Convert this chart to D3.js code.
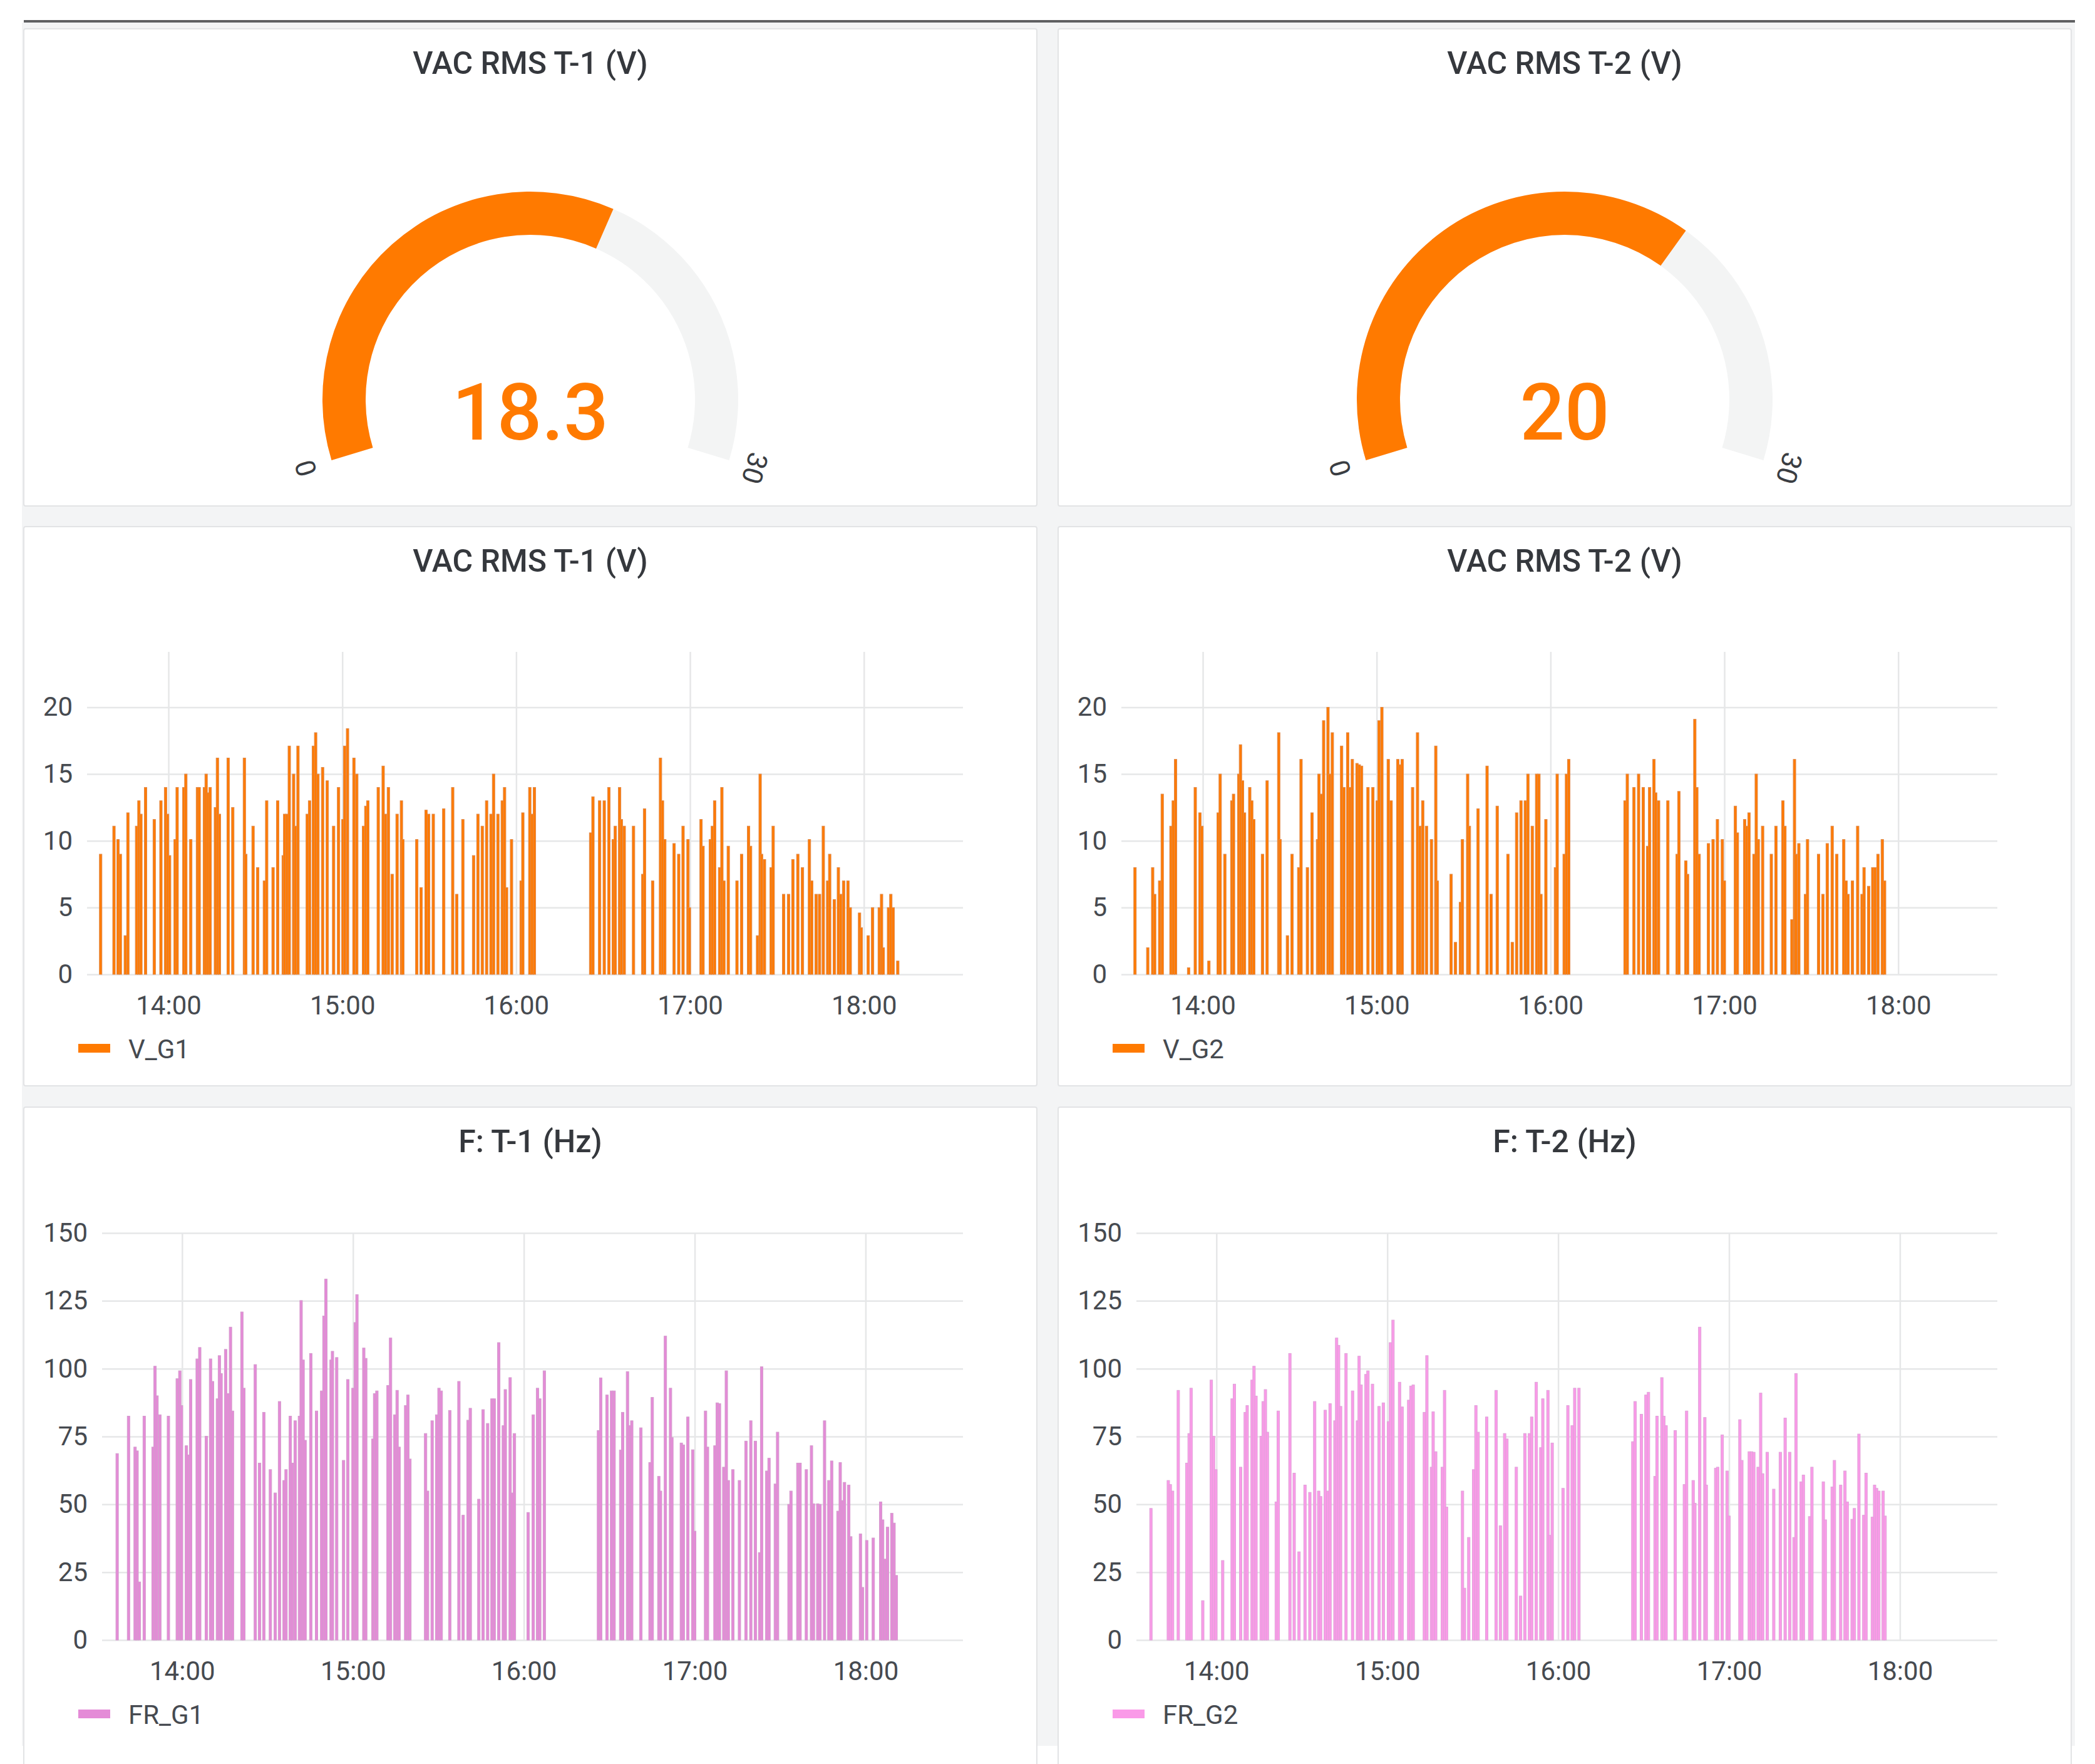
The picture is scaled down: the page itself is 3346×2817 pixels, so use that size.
<!DOCTYPE html>
<html>
<head>
<meta charset="utf-8">
<script src="https://cdn.jsdelivr.net/npm/d3@7"></script>
<style>
body{margin:0;background:#fff;}
text{font-family:Roboto,"Noto Sans",sans-serif;}
</style>
</head>
<body>
<svg id="dash" width="3346" height="2817"></svg>
<script>
// gauges
var gaugeTitles = ["VAC RMS T-1 (V)", "VAC RMS T-2 (V)"];
var gaugeValues = [18.3, 20];
var gaugeRange = [0, 30];

// tick labels
var vTicks = [0, 5, 10, 15, 20];
var fTicks = [0, 25, 50, 75, 100, 125, 150];

// sample times are minutes after 14:00
var vg1Minutes = [-23.4,-18.8,-17.4,-16.6,-14.9,-14,-11,-10.2,-9.5,-7.9,-4.9,-2.6,-1,-0.3,0.4,2.3,3,5.3,6,7.7,
  10,10.6,12.4,13,13.7,14.4,16.2,16.9,17.6,20.6,22.2,26.2,26.7,29.2,30.8,33.1,33.9,36.1,37.7,39.6,
  40.1,40.9,41.7,43.2,43.8,44.7,47.9,48.7,50,50.8,51.6,53.2,54.8,57,58.7,60.2,60.8,61.8,64,65,
  67.3,68.1,68.8,72.4,74.1,74.9,75.9,77.2,78.9,80.4,80.9,85.7,87.2,88.9,89.8,91.4,95,98.1,99.5,101.6,
  105.3,106.8,108.3,109.8,111.3,112.2,113.7,115.2,116,116.7,118.4,121.7,122.3,124.7,125.5,126.3,
  145.7,146.5,148.8,150.4,152,153.5,154.2,155.7,156.3,157.3,160.5,163.7,164.3,167.1,169.8,170.5,171.3,
  174.5,176.1,177.6,179.3,179.8,183.8,184.5,187,187.7,188.5,190.2,191,191.7,193.2,196.2,197.8,200.2,
  200.9,203.3,204.2,204.7,205.7,208,208.7,212.3,214,215.5,217.2,218.8,221.2,222,223.5,224.7,226,
  227.5,228.2,229.8,231.2,232,233,234.5,235.3,238.5,239.1,241.5,243,245.3,246.1,246.7,248.5,249.3,
  250.1,251.7];
var vg1Values = [9,11.1,10.1,9,2.9,12.1,11.1,13,12,14,11.6,13,14,12,8.9,10.1,14,14,15,10.1,
  14,14,14,15,13.6,14,12.5,16.2,12,16.2,12.5,16.2,9,11.1,8,7,13,8,13,8.9,
  12,12,17.1,15,11.1,17.1,12,13,17.1,18.1,15,15.5,14.5,11.1,14,11.6,17.1,18.4,16.2,15,
  11.1,12.6,13,14,15.6,12,14,7.5,12,13,10.1,10.1,6.5,12.3,12,12,12.4,14,6,11.6,
  8.9,12,11.1,13,12,15,12,13,14,6.5,10.1,7,12.1,14,12,14,
  10.6,13.3,13,13,14,10.1,11.1,14,11.6,11.1,11.1,7.5,12.4,7,16.2,13,10.1,
  9.8,9,11.1,10.1,5,11.6,9.6,10.1,11.1,13,8,14,7,9.6,7,9,11.1,
  9.6,2.9,15,9,8.6,8,11.1,6,6,8.6,9,8,10.1,7,6,6,11.1,
  7,9,5.6,8,6,7,7,5,4.6,3.5,2.9,5,5,6,2,5,6,
  5,1];

var vg2Minutes = [-23.4,-19,-17.3,-16.6,-14.9,-14,-11,-10.2,-9.4,-4.9,-2.6,-1,-0.3,2.1,5.3,6,7.6,10,10.6,12.4,
  13,13.7,14.4,16.2,16.9,17.6,20.6,22.2,26.2,26.7,29.2,30.8,33.1,33.9,36.1,37.7,39.6,40.1,40.9,41.7,
  43.2,43.8,44.7,47.9,48.7,50,50.8,51.6,53.2,54,54.8,57,58.7,60.2,60.8,61.8,64,65,67.3,68.1,
  68.8,72.4,74.1,74.9,75.9,77.2,78.9,80.4,80.9,85.7,87.2,88.9,89.6,91.4,92,95,98.1,99.5,101.6,105.3,
  106.8,108.3,109.8,111.3,112.2,113.7,115.2,116,116.7,118.4,121.7,122.3,124.7,125.5,126.3,
  145.7,146.5,148.8,150.4,152,153.5,154.2,155.7,156.3,157.3,160.5,163.7,164.3,166.7,167.3,169.8,170.5,
  171.3,174.5,176.1,177.6,179.3,180,183.8,184.5,187,187.7,188.5,190.2,191,191.7,193.2,196.2,197.8,
  200.2,200.9,203.3,204.2,204.7,205.7,208,208.7,212.5,214,215.5,217.2,218.8,221.2,222,222.7,224.2,
  226,227.5,228.2,229.8,231.2,232,233,234.5,235.3];
var vg2Values = [8,2,8,6,7,13.5,11.1,13,16.1,0.5,14,12.1,11.1,1,12.1,15,9,13,13.5,15,
  17.2,14.5,12.1,14,13,11.6,9,14.5,18.1,10.1,2.9,9,8,16.1,8,12.1,10.1,15,13.5,19,
  20,15,18.1,17.1,14,18.1,14,16.1,15.8,15.7,15.6,14,14,13,19,20,16.1,13,16.1,15.7,
  16.1,14,18.1,11.1,13,11.1,10.1,17.1,7,7.5,2.4,5.4,10.1,15,11.1,12.4,15.6,6,12.6,9,
  2.4,12.1,13,13,15,11.1,15,15,6,11.6,8,15,9,15,16.1,
  13,15,14,15,14,9.6,14,16.1,13.6,13,13,9,13.7,8.5,7.5,19.1,14,
  9,9.8,10.1,11.6,10.1,7,12.6,10.6,11.6,11.1,12.1,9,15,10.1,11.1,9,11.1,
  13,11.1,4.1,16.1,9,9.8,6,10.1,9,6,9.8,11.1,9,10.1,7,6,7,
  11.1,6,8,6.6,8,8,9,10.1,7];

var fr1Minutes = [-22.8,-18.8,-16.5,-15.8,-15,-13.3,-10.2,-9.5,-8.8,-7.8,-4.8,-1.7,-0.8,-0.2,1.5,2.3,3,5.3,6.2,8.5,
  10,10.7,12.4,13.1,13.7,15.3,16.2,17,17.7,21,21.7,25.7,27.2,28.7,31,32.7,34.2,35.8,36.5,38,
  38.7,39.7,41.2,41.8,42.5,43.2,45.2,47.2,49,49.8,50.5,52.3,52.8,54.3,56.7,58.2,60,60.8,61.4,63.8,
  64.5,67,67.6,68.4,72.3,73.2,74.7,75.5,76.2,78.5,79.3,80,85.5,86.2,87.8,89.4,90.2,91,94,97.2,
  98.7,100.4,101.2,104.2,105.7,107.3,108.8,109.6,111.2,112.8,113.5,115.2,115.8,116.7,121.5,123.3,124.8,125.6,127.2,
  146.2,147,149.2,150.8,151.7,154,154.7,156.4,157.1,157.9,161.1,164.3,165.1,167.4,168,169.7,171.5,
  172,175.3,176,177.6,179.3,180,183.8,184.5,187.1,187.9,188.7,190.2,191.1,191.8,193.4,195.7,198,
  199.7,201.3,202.8,203.5,205.3,206.1,208.3,209.1,213.1,213.8,216.2,217,219.2,221,221.7,223.2,224,
  225.6,227.1,228.1,230.3,231.1,231.8,232.6,234.1,234.8,238.2,238.9,240.4,242.7,245.3,246,246.8,247.7,
  249.2,250,250.8];
var fr1Values = [68.7,82.5,71.1,69.7,21.4,82.5,71.1,100.9,90,83,82.5,96.3,99.2,86.4,71.6,68.2,96,103.6,107.8,75.1,
  103.6,95.3,88.9,104.8,98.2,107.1,90.8,115.3,84.4,120.9,92.8,101.5,65.2,83.9,62.8,54.2,87.9,58.8,62.8,82.5,
  65.2,80.8,82.5,125.1,103.2,73.6,105.6,84.4,91.8,119.4,133,103.2,106.4,104.1,66.2,96,92.8,117,127.3,107.6,
  103.8,74.1,90.8,91.8,93.8,111.3,83,92,71.1,86.4,90.3,66.7,76.1,54.9,80.8,83,92.8,91.8,84.6,95.3,
  46,81,85.4,51.9,84.9,79.8,88.9,88.9,109.6,79,92.3,96.7,54.2,76.1,47,83,92.8,88.9,99.2,
  77.2,96.6,90.3,91.8,91.8,70,83.9,98.9,79,80.8,78.2,65.4,89.4,60.3,54.9,112,92.8,
  74.6,72.6,71.9,82.2,70.1,40.1,84.4,71.1,71.6,87.4,87.1,63.7,99.2,58.8,62.8,58.8,73.3,
  80.8,73.3,32.2,100.7,62.3,67,57.5,76.6,50,54.9,65.2,65.2,62.8,71.6,50.2,50.2,50,
  80.8,58.8,66,47.5,65.4,51.4,58.1,57.1,38.1,39.1,19.4,36.7,37.6,50.9,44.3,29.8,41.6,
  46.7,43.1,23.8];

var fr2Minutes = [-23,-16.9,-16.2,-15.4,-13.4,-10.4,-9.6,-8.9,-4.8,-1.8,-1,-0.2,2.2,5.5,6.3,8.5,10.1,10.8,12.5,13.2,
  13.9,15.7,16.4,17.2,17.9,21,21.7,25.8,27.3,29,31.1,32.8,34.5,35.9,36.6,38.2,39.1,39.9,41.6,42.2,
  42.9,43.6,45.5,47.8,49.5,50.1,50.8,52.5,53.2,54.8,57.1,58.6,60.4,61.1,62,64.3,65.2,67.5,68.3,69.1,
  73,73.9,75.5,76.1,77,79.3,80.1,80.8,86.4,87.1,88.6,90.3,91.1,91.9,94.9,98.2,99.7,101.2,102,105.3,
  106.8,108.3,109.9,110.7,112.3,113.9,114.6,116.4,117,117.9,121.7,123.4,124.9,125.8,127.3,
  146.2,147,149.2,150.8,151.7,154,154.7,156.4,157.1,157.9,161.1,164.3,165.1,167.4,168,169.7,171.5,
  172,175.3,176,177.6,179.3,180,183.8,184.5,187.1,187.9,188.7,190.2,191.1,191.8,193.4,195.7,198,
  199.7,201.3,202.8,203.5,205.3,206.1,208.3,209.1,213.1,213.8,216.2,217,219.2,220.7,221.5,223.2,224,
  225.6,227.3,228.1,230.3,231.1,231.8,232.6,234.1,234.8];
var fr2Values = [48.5,58.8,57.3,54.9,92,65.2,76.1,92.8,14.5,95.8,75.1,62.8,29.3,88.9,94.3,63.7,83.9,86.4,95.8,100.9,
  89.9,75.1,87.9,92.3,76.6,50.9,84.4,105.6,61.5,32.5,57.1,54.4,87.9,54.9,52.9,84.7,54.9,87.1,80.8,111.3,
  108.6,86.1,105.6,91.8,80.8,104.6,94,97.9,99.2,94.3,86.1,87.4,80.5,109.6,117.9,95,85.9,88.4,93.6,94,
  83.9,104.8,63.7,84.1,69.4,63.7,92,49,54.9,19.1,37.8,62.8,86.4,76.6,82.2,92,42.1,76.1,74.1,63.7,
  16.2,76.1,76.1,82.2,95,70.9,88.9,92,38.6,72.6,55.9,86.4,79,92.8,92.8,
  73.1,87.9,83.2,90.3,91.3,60.3,82.5,96.7,82.5,79,77.2,57.3,84.4,58.8,50.4,115.3,82,
  57.1,63.3,63.7,75.6,62.3,45.7,81.2,66.2,69.4,69.4,69.2,63.7,91,61.3,69.2,55.6,69.2,
  81.8,69.2,37.8,98.2,58.3,60.8,45.5,63.7,58.3,44.3,56.4,66.2,57.1,62.3,50.9,44.5,48.5,
  75.9,46,61.5,45.3,57.1,55.9,54.9,54.9,45.7];

var t0 = new Date(2021, 0, 1, 14, 0, 0);
function atMinute(m) { return new Date(t0.getTime() + m * 60000); }

var svg = d3.select("#dash");

svg.append("rect").attr("x", 35).attr("y", 36).attr("width", 3279).attr("height", 2752).attr("fill", "#f3f4f5");
svg.append("line").attr("x1", 38).attr("x2", 3314).attr("y1", 34).attr("y2", 34)
  .attr("stroke", "#5f6062").attr("stroke-width", 4);

var cols = [38, 1690];
var panelW = 1618;
var rows = [[46, 808], [841, 1734], [1768, 2830]];

var panel = function(x, top, bottom, title) {
  var g = svg.append("g").attr("transform", "translate(" + x + "," + top + ")");
  g.append("rect").attr("width", panelW).attr("height", bottom - top)
    .attr("fill", "#fff").attr("stroke", "#e2e3e5").attr("stroke-width", 2).attr("rx", 3);
  g.append("text").attr("x", panelW / 2).attr("y", 72).attr("text-anchor", "middle")
    .attr("font-size", 50).attr("font-weight", 500).attr("fill", "#35383d").text(title);
  return g;
};

// gauge: 214 degree sweep
var gAngle = d3.scaleLinear().domain(gaugeRange).range([-107 * Math.PI / 180, 107 * Math.PI / 180]);
var gArc = d3.arc().innerRadius(263).outerRadius(332);

var gauge = function(g, value) {
  var gg = g.append("g").attr("transform", "translate(809,592)");
  gg.append("path").attr("d", gArc({startAngle: gAngle(gaugeRange[0]), endAngle: gAngle(gaugeRange[1])}))
    .attr("fill", "#f3f4f4");
  gg.append("path").attr("d", gArc({startAngle: gAngle(gaugeRange[0]), endAngle: gAngle(value)}))
    .attr("fill", "#ff7a00");
  gg.append("text").attr("y", 64).attr("text-anchor", "middle").attr("font-size", 126)
    .attr("font-weight", 500).attr("fill", "#ff7a00").text(value);
  gaugeRange.forEach(function(v) {
    var a = gAngle(v), r = 375;
    var deg = a * 180 / Math.PI;
    gg.append("text")
      .attr("transform", "translate(" + (r * Math.sin(a)) + "," + (-r * Math.cos(a)) + ") rotate(" + deg + ")")
      .attr("text-anchor", "middle").attr("dy", "0.35em")
      .attr("font-size", 44).attr("fill", "#3a3d42").text(v);
  });
};

var xDomain = [atMinute(-28.1), atMinute(274.2)];

var barChart = function(g, c) {
  var x = d3.scaleTime().domain(xDomain).range([c.left, 1500]);
  var y = d3.scaleLinear().domain([0, c.yMax]).range([c.y0, c.top]);
  var plotW = 1500 - c.left;

  var ya = g.append("g").attr("transform", "translate(" + c.left + ",0)")
    .call(d3.axisLeft(y).tickValues(c.ticks).tickSize(-plotW).tickPadding(23));
  var xa = g.append("g").attr("transform", "translate(0," + c.y0 + ")")
    .call(d3.axisBottom(x).ticks(d3.timeHour.every(1)).tickFormat(d3.timeFormat("%H:%M"))
      .tickSize(-(c.y0 - c.top)));
  [ya, xa].forEach(function(a) {
    a.select(".domain").remove();
    a.selectAll("line").attr("stroke", "#e6e7e8").attr("stroke-width", 2.5);
    a.selectAll("text").attr("font-size", 42).attr("fill", "#464a50").attr("font-family", "Roboto");
  });
  xa.selectAll("text").attr("y", 64).attr("dy", null);

  var pts = c.minutes.map(function(m, i) { return {t: atMinute(m), v: c.values[i]}; });
  var bw = 4;
  g.append("g").selectAll("rect").data(pts).enter().append("rect")
    .attr("x", function(d) { return x(d.t) - bw / 2; })
    .attr("y", function(d) { return y(d.v); })
    .attr("width", bw)
    .attr("height", function(d) { return y(0) - y(d.v); })
    .attr("fill", c.color).attr("stroke", c.edge).attr("stroke-width", 1);

  g.append("rect").attr("x", 87).attr("y", c.y0 + 111).attr("width", 51).attr("height", 14).attr("fill", c.color);
  g.append("text").attr("x", 167).attr("y", c.y0 + 134).attr("font-size", 42).attr("fill", "#464a50").text(c.name);
};

for (var i = 0; i < 2; i++) {
  gauge(panel(cols[i], rows[0][0], rows[0][1], gaugeTitles[i]), gaugeValues[i]);
}

barChart(panel(cols[0], rows[1][0], rows[1][1], "VAC RMS T-1 (V)"),
  {left: 101, top: 200, y0: 715, yMax: 24.15, ticks: vTicks, minutes: vg1Minutes, values: vg1Values,
   color: "#ff7a00", edge: "#e0894a", name: "V_G1"});
barChart(panel(cols[1], rows[1][0], rows[1][1], "VAC RMS T-2 (V)"),
  {left: 101, top: 200, y0: 715, yMax: 24.15, ticks: vTicks, minutes: vg2Minutes, values: vg2Values,
   color: "#ff7a00", edge: "#e0894a", name: "V_G2"});
barChart(panel(cols[0], rows[2][0], rows[2][1], "F: T-1 (Hz)"),
  {left: 125, top: 201, y0: 851, yMax: 150, ticks: fTicks, minutes: fr1Minutes, values: fr1Values,
   color: "#e48bd7", edge: "#d39bcc", name: "FR_G1"});
barChart(panel(cols[1], rows[2][0], rows[2][1], "F: T-2 (Hz)"),
  {left: 125, top: 201, y0: 851, yMax: 150, ticks: fTicks, minutes: fr2Minutes, values: fr2Values,
   color: "#fa9ae8", edge: "#dfa3d8", name: "FR_G2"});
</script>
</body>
</html>
